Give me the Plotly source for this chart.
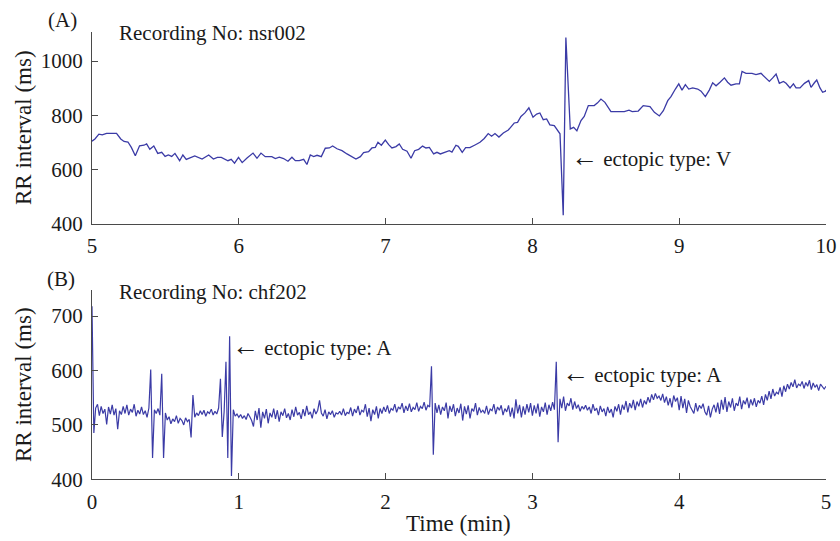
import numpy as np
import plotly.graph_objects as go

# (A) Recording nsr002: RR intervals between minute 5 and minute 10
nsr_time_min = [
    5.000, 5.020, 5.047, 5.070, 5.099, 5.167, 5.196, 5.218, 5.245, 5.268,
    5.295, 5.324, 5.354, 5.372, 5.394, 5.421, 5.448, 5.475, 5.498, 5.520,
    5.543, 5.565, 5.597, 5.619, 5.642, 5.673, 5.700, 5.750, 5.795, 5.827,
    5.854, 5.881, 5.926, 5.948, 5.971, 5.998, 6.023, 6.056, 6.097, 6.124,
    6.151, 6.180, 6.225, 6.249, 6.276, 6.305, 6.335, 6.362, 6.385, 6.412,
    6.442, 6.464, 6.487, 6.510, 6.533, 6.562, 6.589, 6.617, 6.639, 6.669,
    6.703, 6.737, 6.771, 6.798, 6.828, 6.850, 6.884, 6.907, 6.930, 6.948,
    6.971, 6.998, 7.021, 7.043, 7.071, 7.093, 7.116, 7.146, 7.173, 7.198,
    7.225, 7.252, 7.275, 7.298, 7.327, 7.350, 7.373, 7.407, 7.434, 7.452,
    7.479, 7.495, 7.522, 7.545, 7.574, 7.609, 7.643, 7.672, 7.699, 7.722,
    7.745, 7.772, 7.802, 7.836, 7.858, 7.876, 7.899, 7.922, 7.949, 7.976,
    8.004, 8.029, 8.051, 8.074, 8.097, 8.119, 8.149, 8.176, 8.188, 8.210,
    8.228, 8.258, 8.281, 8.303, 8.331, 8.353, 8.381, 8.421, 8.444, 8.467,
    8.494, 8.535, 8.580, 8.626, 8.658, 8.680, 8.721, 8.755, 8.801, 8.831,
    8.865, 8.892, 8.922, 8.944, 8.974, 8.997, 9.019, 9.042, 9.065, 9.092,
    9.126, 9.149, 9.178, 9.205, 9.228, 9.251, 9.278, 9.308, 9.330, 9.353,
    9.387, 9.410, 9.428, 9.455, 9.496, 9.523, 9.557, 9.587, 9.614, 9.637,
    9.660, 9.682, 9.710, 9.728, 9.755, 9.778, 9.796, 9.823, 9.853, 9.882,
    9.898, 9.921, 9.937, 9.959, 9.977, 9.996, 10.000,
]
nsr_rr_ms = [
    705, 713, 731, 728, 734, 734, 713, 704, 702, 682,
    651, 688, 690, 695, 675, 687, 660, 664, 649, 654,
    649, 660, 633, 654, 638, 645, 651, 639, 654, 639,
    645, 645, 633, 638, 624, 645, 626, 643, 661, 642,
    661, 648, 648, 641, 646, 641, 631, 646, 633, 633,
    638, 619, 654, 648, 653, 648, 679, 680, 687, 677,
    670, 658, 646, 639, 648, 663, 666, 680, 682, 701,
    690, 709, 692, 680, 685, 695, 675, 668, 642, 670,
    675, 687, 680, 682, 658, 664, 658, 665, 670, 665,
    690, 686, 664, 681, 681, 691, 701, 715, 733, 723,
    733, 720, 735, 746, 760, 772, 774, 796, 809, 828,
    793, 805, 809, 784, 787, 765, 762, 744, 732, 432,
    1087, 750, 756, 743, 781, 796, 836, 836, 846, 860,
    848, 814, 814, 814, 819, 814, 816, 836, 832, 811,
    798, 817, 854, 869, 897, 916, 893, 913, 897, 901,
    897, 889, 869, 893, 920, 909, 922, 938, 922, 911,
    916, 916, 962, 955, 955, 950, 955, 940, 925, 938,
    952, 918, 925, 918, 901, 916, 901, 901, 918, 928,
    903, 920, 930, 901, 885, 889, 893,
]

# (B) Recording chf202: RR intervals over minutes 0 to 5, evenly sampled
chf_rr_ms = [
    718, 485, 531, 538, 517, 534, 521, 529, 501, 533, 520, 537, 518, 530, 492, 526, 519, 534, 521, 537,
    518, 529, 523, 538, 516, 527, 520, 533, 519, 526, 514, 531, 602, 439, 528, 521, 530, 518, 594, 439,
    522, 509, 515, 502, 511, 506, 517, 503, 512, 508, 500, 513, 506, 510, 477, 555, 514, 522, 517, 526,
    519, 527, 516, 524, 521, 529, 518, 525, 520, 531, 585, 478, 524, 616, 439, 663, 406, 528, 516, 520,
    514, 519, 512, 517, 510, 521, 515, 508, 497, 526, 509, 531, 495, 524, 512, 529, 503, 522, 514, 530,
    511, 527, 506, 524, 517, 530, 513, 521, 509, 528, 515, 533, 518, 523, 511, 529, 516, 535, 519, 524,
    512, 530, 520, 527, 545, 522, 516, 528, 511, 524, 519, 526, 514, 522, 520, 525, 518, 530, 517, 523,
    521, 532, 516, 529, 522, 535, 518, 527, 524, 538, 515, 531, 507, 528, 519, 534, 512, 530, 521, 533,
    524, 536, 521, 530, 527, 538, 523, 533, 529, 540, 522, 535, 526, 539, 524, 532, 528, 541, 525, 534,
    530, 542, 527, 536, 533, 608, 445, 540, 522, 537, 519, 533, 526, 541, 512, 535, 524, 538, 516, 531,
    522, 539, 508, 534, 520, 536, 512, 530, 525, 540, 518, 532, 523, 527, 521, 535, 519, 529, 526, 538,
    520, 533, 527, 536, 518, 530, 524, 536, 515, 532, 512, 547, 521, 537, 514, 534, 519, 538, 523, 540,
    517, 536, 521, 539, 515, 533, 524, 541, 519, 537, 526, 542, 528, 616, 468, 548, 531, 552, 526, 540,
    535, 549, 528, 543, 530, 537, 525, 534, 529, 536, 527, 533, 521, 538, 526, 531, 518, 535, 524, 530,
    516, 533, 522, 529, 514, 534, 525, 538, 519, 537, 528, 544, 523, 540, 531, 546, 527, 543, 534, 548,
    532, 545, 538, 551, 541, 556, 546, 558, 549, 553, 545, 557, 541, 552, 536, 549, 532, 554, 543, 550,
    527, 553, 531, 548, 522, 545, 534, 528, 521, 540, 525, 536, 530, 539, 524, 518, 535, 514, 529, 537,
    523, 541, 520, 546, 528, 551, 524, 543, 532, 549, 526, 540, 535, 552, 529, 545, 538, 550, 531, 547,
    536, 549, 533, 545, 540, 553, 537, 556, 545, 562, 548, 566, 553, 560, 557, 569, 552, 572, 561, 575,
    566, 578, 570, 583, 568, 575, 572, 580, 567, 578, 571, 582, 565, 577, 569, 574, 563, 575, 570, 566,
    571,
]
chf_start_min, chf_end_min = 0.0, 5.0
chf_time_min = np.linspace(chf_start_min, chf_end_min, len(chf_rr_ms))

# Axis ticks
top_xticks = [5, 6, 7, 8, 9, 10]
top_yticks = [400, 600, 800, 1000]
bot_xticks = [0, 1, 2, 3, 4, 5]
bot_yticks = [400, 500, 600, 700]

W, H = 840, 541
FONT = "Liberation Serif, Times New Roman, serif"
TXT = "#1a1a1a"
AXC = "#4a4a4a"
LINE = "#3b3ba6"


def fx(p):
    return p / W


def fy(p):
    return 1 - p / H


fig = go.Figure()
fig.add_trace(go.Scatter(x=nsr_time_min, y=nsr_rr_ms, mode="lines",
                         line=dict(color=LINE, width=1.3),
                         xaxis="x", yaxis="y", showlegend=False))
fig.add_trace(go.Scatter(x=chf_time_min, y=chf_rr_ms, mode="lines",
                         line=dict(color=LINE, width=1.2),
                         xaxis="x2", yaxis="y2", showlegend=False))

axis_common = dict(showline=True, linecolor=AXC, linewidth=1.2,
                   ticks="inside", ticklen=6, tickwidth=1.2, tickcolor=AXC,
                   showgrid=False, zeroline=False, automargin=False,
                   tickfont=dict(family=FONT, size=21, color=TXT))
x_common = dict(ticklabelstandoff=3, **axis_common)
y_common = dict(ticklabelstandoff=4, **axis_common)

x_dom = [fx(92), fx(826)]
fig.update_layout(
    width=W, height=H,
    margin=dict(l=0, r=0, t=0, b=0),
    paper_bgcolor="white", plot_bgcolor="white",
    xaxis=dict(domain=x_dom, range=[5, 10], tickvals=top_xticks,
               anchor="y", **x_common),
    yaxis=dict(domain=[fy(224), fy(32)], range=[400, 1107],
               tickvals=top_yticks, anchor="x", **y_common),
    xaxis2=dict(domain=x_dom, range=[0, 5], tickvals=bot_xticks,
                anchor="y2", **x_common),
    yaxis2=dict(domain=[fy(479.3), fy(290)], range=[400, 748],
                tickvals=bot_yticks, anchor="x2", **y_common),
)

ann_font = dict(family=FONT, size=21, color=TXT)
title_font = dict(family=FONT, size=23, color=TXT)
ARROW = '<span style="font-size:27px">←</span> '
annotations = [
    dict(text="(A)", x=fx(62), y=fy(20), xref="paper", yref="paper",
         xanchor="center", yanchor="middle", showarrow=False, font=ann_font),
    dict(text="Recording No: nsr002", x=fx(117), y=fy(33), xref="paper",
         yref="paper", xanchor="left", yanchor="middle", showarrow=False,
         font=ann_font),
    dict(text=ARROW + "ectopic type: V", x=8.250, y=647, xref="x", yref="y",
         xanchor="left", yanchor="middle", showarrow=False, font=ann_font),
    dict(text="(B)", x=fx(61), y=fy(279), xref="paper", yref="paper",
         xanchor="center", yanchor="middle", showarrow=False, font=ann_font),
    dict(text="Recording No: chf202", x=fx(117), y=fy(292), xref="paper",
         yref="paper", xanchor="left", yanchor="middle", showarrow=False,
         font=ann_font),
    dict(text=ARROW + "ectopic type: A", x=0.942, y=645, xref="x2", yref="y2",
         xanchor="left", yanchor="middle", showarrow=False, font=ann_font),
    dict(text=ARROW + "ectopic type: A", x=3.188, y=596, xref="x2", yref="y2",
         xanchor="left", yanchor="middle", showarrow=False, font=ann_font),
    dict(text="RR interval (ms)", x=fx(23), y=fy(128), xref="paper",
         yref="paper", textangle=-90, xanchor="center", yanchor="middle",
         showarrow=False, font=title_font),
    dict(text="RR interval (ms)", x=fx(23), y=fy(385), xref="paper",
         yref="paper", textangle=-90, xanchor="center", yanchor="middle",
         showarrow=False, font=title_font),
    dict(text="Time (min)", x=fx(459), y=fy(523), xref="paper", yref="paper",
         xanchor="center", yanchor="middle", showarrow=False,
         font=title_font),
]
fig.update_layout(annotations=annotations)

fig.write_html("out.html")
